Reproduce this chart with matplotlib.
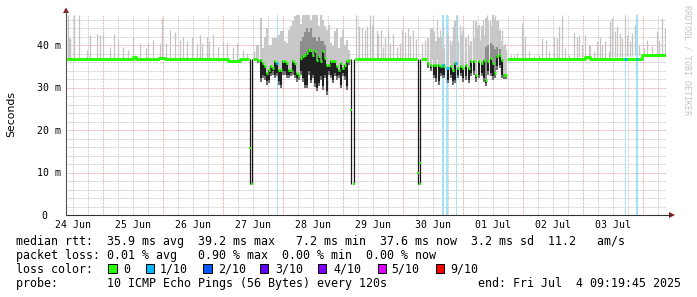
import matplotlib
matplotlib.use("Agg")
import matplotlib.pyplot as plt
from matplotlib.patches import Polygon, Rectangle
import numpy as np

W, H = 697, 297
MONO = "DejaVu Sans Mono"

# hours since graph start (24 Jun 09:19:45), 240 h window, values in ms
Y_MAX = 47.1
FIRST_MIDNIGHT = 14.67
DAY_LABELS = ["24 Jun", "25 Jun", "26 Jun", "27 Jun", "28 Jun",
              "29 Jun", "30 Jun", "01 Jul", "02 Jul", "03 Jul"]

# median rtt, calm stretches (nan = gap at drops / noisy periods)
MED_T = [0.0, 25.6, 26.8, 28.0, 29.2, 37.2, 39.6, 64.8, 69.6, 73.0, 74.6, 76.4,
         115.4, 140.2, 141.9, 144.4,
         176.5, 207.6, 209.6, 230.4, 240.0]
MED_V = [36.6, 36.8, 37.2, 36.7, 36.6, 36.9, 36.6, 36.3, 36.6, np.nan, 36.6, np.nan,
         36.6, np.nan, 36.6, np.nan,
         36.6, 37.1, 36.6, 37.7, 37.7]

# noisy period 1 (27 Jun evening - 28 Jun)
N1_T = [76.8, 78.0, 78.8, 79.6, 80.4, 81.2, 82.0, 82.8, 83.6, 84.4, 85.2, 86.0,
        86.8, 87.6, 88.4, 89.2, 90.0, 90.8, 91.6, 92.4, 93.2, 94.0, 94.8, 95.6,
        96.4, 97.2, 98.0, 98.8, 99.6, 100.4, 101.2, 102.0, 102.8, 103.6, 104.4,
        105.2, 106.0, 106.8, 107.6, 108.4, 109.2, 110.0, 110.8, 111.6, 112.4, 113.2]
N1_MED = [36.5, 36.5, 35.8, 35.0, 33.4, 34.2, 35.0, 34.6, 36.2, 35.8, 34.2, 34.2,
          36.2, 36.2, 35.8, 34.2, 34.2, 36.2, 35.8, 33.4, 33.0, 36.9, 37.3, 37.7,
          38.1, 38.9, 38.9, 37.7, 38.5, 36.5, 37.3, 36.2, 38.5, 36.9, 35.4,
          35.4, 36.2, 36.2, 36.2, 35.0, 34.2, 35.8, 34.6, 35.4, 36.2, 36.5]
N1_LO = [36.5, 32.2, 33.0, 32.6, 31.5, 31.8, 33.4, 33.8, 33.0, 33.4, 31.5, 30.7,
         33.8, 33.8, 33.0, 33.0, 33.4, 33.8, 33.0, 32.2, 32.6, 33.8, 32.2, 30.7,
         30.7, 33.8, 31.8, 33.0, 31.0, 29.9, 31.1, 32.6, 30.3, 33.0, 29.1,
         33.8, 33.0, 31.8, 33.4, 32.6, 33.0, 30.7, 33.4, 32.6, 30.3, 36.0]
N1_HI = [40.1, 46.4, 39.3, 42.0, 44.0, 40.1, 40.1, 41.6, 41.6, 41.6, 42.4, 43.2,
         43.2, 40.9, 40.5, 43.6, 44.4, 45.6, 46.8, 47.1, 47.1, 45.0, 47.1, 47.1,
         47.1, 47.1, 46.0, 47.1, 47.1, 47.1, 44.5, 47.1, 46.0, 44.4, 43.6,
         44.8, 40.5, 39.7, 43.2, 44.0, 39.3, 41.6, 43.6, 40.1, 41.2, 38.9]
N1_MID = [np.nan] * 21 + [41.0, 42.0, 43.0, 44.0, 43.0, 44.0, 42.0, 42.0, 41.0,
                          42.0, 41.0, 41.0, 40.0] + [np.nan] * 12

# noisy period 2 (30 Jun - 01 Jul)
N2_T = [144.8, 146.0, 147.3, 148.0, 149.1, 150.0, 150.7, 151.3, 152.7, 154.0,
        154.9, 155.6, 156.8, 157.9, 158.9, 160.0, 161.1, 162.1, 163.2, 164.1,
        165.2, 166.3, 167.2, 168.0, 168.9, 169.9, 170.8, 171.6, 172.5, 173.5,
        174.3, 175.2, 176.1]
N2_MED = [35.8, 35.4, 35.4, 35.4, 35.4, 35.0, 35.4, 35.0, 34.6, 35.0, 34.2, 35.8,
          34.6, 35.0, 34.6, 35.4, 34.6, 36.2, 36.2, 33.0, 36.2, 35.8, 36.5, 31.8,
          36.2, 36.9, 35.8, 33.4, 37.3, 37.7, 36.5, 33.0, 33.0]
N2_LO = [35.4, 34.6, 33.0, 32.2, 31.5, 33.4, 33.0, 33.0, 31.8, 33.0, 31.5, 31.8,
         33.0, 33.4, 32.2, 32.6, 31.8, 33.4, 33.8, 32.2, 33.0, 33.4, 32.2, 31.1,
         33.8, 33.4, 32.6, 33.0, 35.0, 35.4, 33.0, 32.8, 32.8]
N2_HI = [41.6, 44.0, 43.2, 40.9, 41.6, 41.6, 39.3, 39.3, 42.4, 40.1, 41.0, 45.6,
         41.0, 42.4, 43.6, 41.6, 39.7, 40.9, 41.6, 45.6, 44.8, 44.4, 42.4, 46.4,
         45.6, 44.4, 47.1, 46.2, 45.6, 43.6, 40.9, 39.7, 38.9]
N2_MID = [np.nan] * 23 + [39.5, 40.0, 40.5, 40.0, 39.0, 39.5, 39.0] + [np.nan] * 3

# the three short drops
DROP_T = [73.4, 74.2, 114.0, 115.0, 140.7, 141.6]
DROP_MED = [15.7, 7.3, 24.7, 7.4, 9.8, 12.3]
DROP_LO = [7.2, 7.2, 7.2, 7.2, 7.2, 7.2]
DROP_HI = [36.6, 36.6, 36.6, 36.6, 36.6, 36.6]

# smoke spikes in calm stretches
SPIKE_T = [0.6, 0.8, 1.2, 1.6, 3.2, 5.1, 8.5, 9.6, 12.3, 13.6, 14.9, 17.6, 19.2,
           20.9, 22.9, 24.9, 26.9, 29.6, 31.9, 32.9, 34.9, 37.6, 38.5, 40.0, 41.6,
           43.6, 45.6, 46.9, 48.3, 50.3, 52.3, 53.6, 54.3, 56.3, 57.3, 58.9, 60.9,
           62.7, 64.3, 66.9, 68.5, 70.7, 72.3, 75.2, 76.0,
           116.0, 117.3, 118.3, 119.6, 120.5, 121.6, 122.3, 122.9, 124.3, 124.9,
           125.9, 126.7, 127.6, 128.9, 129.6, 130.9, 132.3, 133.6, 134.3, 135.6,
           136.7, 137.6, 138.7, 140.0,
           142.3, 143.6, 144.9, 146.3, 146.9, 148.3, 149.6, 150.9, 152.3, 153.6,
           154.9, 156.3, 157.6, 158.9, 160.9, 162.9, 164.3, 165.6, 166.9, 168.3,
           169.6, 170.3, 171.6, 172.9, 174.3, 175.6,
           177.9, 179.2, 180.5, 182.5, 182.9, 183.5, 185.2, 187.2, 189.2, 190.5,
           191.9, 193.2, 195.1, 196.4, 197.3, 198.4, 199.7, 201.1, 203.1, 204.4,
           205.1, 206.4, 207.7, 209.1, 209.7, 211.1, 212.4, 213.7, 214.4, 215.7,
           217.1, 217.7, 218.4, 219.7, 220.4, 221.7, 222.4, 223.7, 224.4, 225.7,
           226.4, 227.7, 229.1, 231.1, 232.4, 234.4, 236.4, 237.1, 238.4, 239.5]
SPIKE_TOP = [41.6, 47.0, 41.6, 41.6, 47.0, 47.0, 38.8, 42.4, 42.6, 42.4, 42.6, 39.6, 42.6,
             41.2, 39.6, 38.8, 42.0, 40.4, 39.2, 40.4, 41.2, 40.4, 46.3, 40.4, 43.5,
             43.1, 41.2, 42.0, 41.0, 42.0, 40.4, 42.4, 40.4, 42.0, 41.0, 42.6, 39.6,
             41.0, 40.4, 39.6, 40.4, 38.8, 38.1, 38.5, 40.0,
             47.0, 44.4, 44.0, 43.5, 44.4, 47.0, 44.8, 47.0, 43.5, 42.7,
             43.5, 39.6, 41.9, 43.5, 40.4, 42.7, 39.6, 40.4, 43.5, 43.1,
             44.0, 42.3, 43.5, 41.5,
             40.4, 41.2, 39.6, 44.0, 43.1, 45.9, 43.5, 44.4, 41.9, 41.2,
             44.4, 47.0, 44.8, 44.4, 42.7, 45.9, 44.4, 41.2, 45.9, 47.0,
             45.9, 46.4, 47.0, 45.9, 43.5, 40.4,
             37.7, 37.7, 38.1, 45.2, 44.0, 42.1, 38.5, 37.3, 37.7, 41.6,
             41.2, 38.5, 42.0, 41.6, 44.4, 47.1, 39.3, 37.7, 42.8, 42.0,
             42.4, 40.1, 42.4, 40.1, 40.1, 38.5, 40.9, 42.0, 40.1, 40.9,
             38.5, 45.6, 46.4, 43.2, 44.4, 42.8, 41.6, 46.8, 42.4, 40.9,
             42.8, 44.8, 40.1, 39.3, 41.2, 39.7, 43.2, 41.2, 46.4, 44.0]

# 1/10 packet loss periods
LOSS_T = [84.4, 150.8, 152.5, 156.0, 223.8, 228.3]
LOSS_W = [0.4, 0.9, 0.9, 0.4, 0.4, 0.9]
LOSS_MED = [35.8, 35.2, 34.6, 35.8, 36.6, 36.6]

LOSS_LEGEND = ["0", "1/10", "2/10", "3/10", "4/10", "5/10", "9/10"]
LOSS_COLORS = ["#26ff00", "#00b8ff", "#0059ff", "#5e00ff", "#7e00ff", "#dd00ff", "#ff0000"]

STATS_LINES = [
    "median rtt:  35.9 ms avg  39.2 ms max   7.2 ms min  37.6 ms now  3.2 ms sd  11.2   am/s",
    "packet loss: 0.01 % avg   0.90 % max  0.00 % min  0.00 % now",
]
PROBE_LINE = "probe:       10 ICMP Echo Pings (56 Bytes) every 120s"
END_LINE = "end: Fri Jul  4 09:19:45 2025"


def fx(x):
    return x / W


def fy(y):
    return 1 - y / H


fig = plt.figure(figsize=(W / 100, H / 100), dpi=100)
fig.patch.set_facecolor("white")
ax = fig.add_axes([fx(66), fy(215), 600 / W, Y_MAX * 4.25 / H])
ax.set_xlim(0, 240)
ax.set_ylim(0, Y_MAX)
ax.axis("off")

# grid
dots = (0, (0.72, 0.72))
majors = np.arange(FIRST_MIDNIGHT, 240, 24)
for h in np.arange(FIRST_MIDNIGHT - 12, 240, 6):
    if np.min(np.abs(majors - h)) > 0.1:
        ax.axvline(h, color="#c4c4c4", lw=0.72, ls=dots, zorder=0.5)
for h in majors:
    ax.axvline(h, color="#e6a0a0", lw=0.72, ls=dots, zorder=0.6)
for v in range(2, 47, 2):
    if v % 10:
        ax.axhline(v, color="#c4c4c4", lw=0.72, ls=dots, zorder=0.5)
for v in (10, 20, 30, 40):
    ax.axhline(v, color="#e6a0a0", lw=0.72, ls=dots, zorder=0.6)

# loss background bars
ax.bar(LOSS_T, Y_MAX, width=LOSS_W, bottom=0, color="#a6e2f8", zorder=1)

# smoke in calm stretches
calm_t = [t for t, v in zip(MED_T, MED_V) if not np.isnan(v)]
calm_v = [v for v in MED_V if not np.isnan(v)]
base = np.interp(SPIKE_T, calm_t, calm_v)
ax.vlines(SPIKE_T, base, SPIKE_TOP, color="#c4c4c4", lw=0.9, zorder=2)

# smoke in noisy periods
for t, med, lo, hi, mid in ((N1_T, N1_MED, N1_LO, N1_HI, N1_MID),
                            (N2_T, N2_MED, N2_LO, N2_HI, N2_MID)):
    t = np.array(t)
    med = np.array(med)
    lo = np.array(lo)
    ax.vlines(t, med, hi, color="#c8c8c8", lw=1.5, zorder=2)
    ax.vlines(t, med, mid, color="#8e8e8e", lw=1.5, zorder=3)
    ax.vlines(t, lo, med, color="#202020", lw=1.5, zorder=3)
    ax.vlines(t, lo - 0.8, lo, color="#707070", lw=1.5, zorder=3)
    ax.hlines(med, t - 0.35, t + 0.35, color="#26ff00", lw=2.1, zorder=5)

# drops
ax.vlines(DROP_T, DROP_LO, DROP_HI, color="#1a1a1a", lw=0.9, zorder=3)

# median line in calm stretches
ax.plot(MED_T, MED_V, drawstyle="steps-post", color="#26ff00", lw=2.1,
        zorder=5, solid_capstyle="butt")
ax.scatter(DROP_T, DROP_MED, marker="s", s=4, color="#26ff00", lw=0, zorder=5)
ax.scatter(DROP_T[1::2], DROP_LO[1::2], marker="s", s=3, color="#26ff00", lw=0, zorder=5)
ax.hlines(LOSS_MED, np.array(LOSS_T) - 0.5, np.array(LOSS_T) + 0.5,
          color="#00b8ff", lw=2.1, zorder=6)

# axes with arrows
fig.add_artist(plt.Line2D([fx(66), fx(671)], [fy(215), fy(215)], color="#333333", lw=0.8))
fig.add_artist(plt.Line2D([fx(66), fx(66)], [fy(215), fy(11)], color="#555555", lw=0.8))
fig.add_artist(Polygon([(fx(675), fy(215)), (fx(669), fy(212)), (fx(669), fy(218))],
                       closed=True, color="#8c1c1c", lw=0))
fig.add_artist(Polygon([(fx(66), fy(7.5)), (fx(63), fy(13)), (fx(69), fy(13))],
                       closed=True, color="#8c1c1c", lw=0))

# tick labels
for k, lab in enumerate(DAY_LABELS):
    h = FIRST_MIDNIGHT - 12 + 24 * k
    fig.text(fx(66 + h * 2.5), fy(227.5), lab, ha="center", va="baseline",
             family=MONO, fontsize=7.1)
for v in (10, 20, 30, 40):
    fig.text(fx(60.5), fy(215 - v * 4.25 + 3.6), f"{v} m", ha="right", va="baseline",
             family=MONO, fontsize=7.1)
fig.text(fx(47.5), fy(215 + 3.6), "0", ha="right", va="baseline", family=MONO, fontsize=7.1)

fig.text(fx(11.5), fy(114), "Seconds", rotation=90, ha="center", va="center",
         family="DejaVu Sans", fontsize=7.8)
fig.text(fx(687.5), fy(5), "RRDTOOL / TOBI OETIKER", rotation=270, ha="center", va="top",
         family=MONO, fontsize=6, color="#c4c4c4")

# legend block
fig.text(fx(15.5), fy(245), STATS_LINES[0], family=MONO, fontsize=8.4, va="baseline")
fig.text(fx(15.5), fy(259), STATS_LINES[1], family=MONO, fontsize=8.4, va="baseline")
fig.text(fx(15.5), fy(273), "loss color:", family=MONO, fontsize=8.4, va="baseline")
sq_x = [108.3, 146.0, 203.3, 260.0, 318.0, 377.7, 435.7]
tx_x = [123.0, 160.0, 218.0, 275.0, 333.0, 391.7, 450.0]
for sx, tx, lab, col in zip(sq_x, tx_x, LOSS_LEGEND, LOSS_COLORS):
    fig.add_artist(Rectangle((fx(sx), fy(272.6)), 8.4 / W, 8.6 / H,
                             facecolor=col, edgecolor="black", lw=0.72))
    fig.text(fx(tx), fy(273), lab, family=MONO, fontsize=8.4, va="baseline")
fig.text(fx(15.5), fy(287), PROBE_LINE, family=MONO, fontsize=8.4, va="baseline")
fig.text(fx(478), fy(287), END_LINE, family=MONO, fontsize=8.4, va="baseline")

fig.savefig("out.png", dpi=100, facecolor="white")
